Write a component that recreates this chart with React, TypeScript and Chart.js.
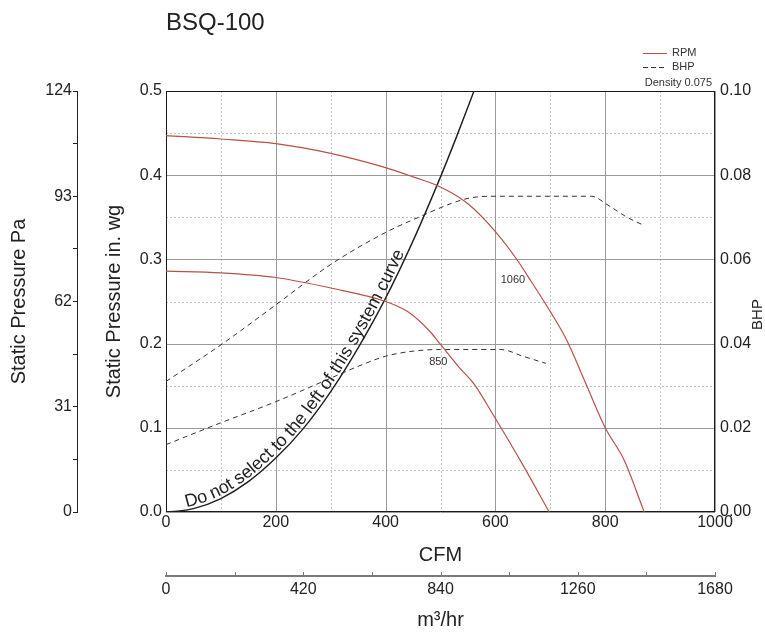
import React, { useEffect, useRef } from "react";
import Chart from "chart.js/auto";

const chartTitle = "BSQ-100";

// Fan curves: CFM vs static pressure (in. wg)
const cfm1060 = [0, 100, 200, 300, 400, 450, 500, 550, 600, 640, 665, 700, 730, 765, 800, 835, 871];
const sp1060 = [0.447, 0.443, 0.4375, 0.426, 0.409, 0.398, 0.386, 0.366, 0.333, 0.299, 0.274, 0.238, 0.204, 0.152, 0.1, 0.061, 0];
const cfm850 = [0, 100, 200, 300, 400, 440, 480, 500, 535, 560, 600, 650, 698];
const sp850 = [0.286, 0.284, 0.2785, 0.266, 0.25, 0.238, 0.215, 0.199, 0.171, 0.153, 0.111, 0.056, 0];

// Brake horsepower curves
const cfmBhp1060 = [0, 100, 200, 300, 400, 460, 520, 550, 590, 775, 805, 840, 872];
const bhp1060 = [0.031, 0.0397, 0.0492, 0.0588, 0.0664, 0.07, 0.0733, 0.0745, 0.075, 0.075, 0.0729, 0.07, 0.068];
const cfmBhp850 = [0, 100, 200, 300, 350, 400, 450, 500, 610, 650, 692];
const bhp850 = [0.016, 0.0212, 0.0262, 0.0318, 0.0346, 0.037, 0.0382, 0.0386, 0.0386, 0.037, 0.0353];

// System curve
const cfmSystem = [0, 20, 50, 100, 150, 200, 250, 300, 350, 400, 450, 500, 530, 561];
const spSystem = [0, 0.001, 0.004, 0.016, 0.036, 0.064, 0.099, 0.143, 0.195, 0.254, 0.322, 0.398, 0.447, 0.5];
const systemText = "Do not select to the left of this system curve";
const systemTextStartCfm = 38;

// Curve labels
const rpmLabels = ["1060", "850"];
const rpmLabelCfm = [632, 496];
const rpmLabelSp = [0.275, 0.178];

// Legend
const legendLabels = ["RPM", "BHP"];
const densityNote = "Density 0.075";

// Axis ticks
const cfmMajor = [0, 200, 400, 600, 800, 1000];
const cfmMinor = [100, 300, 500, 700, 900];
const m3hrMajor = [0, 420, 840, 1260, 1680];
const m3hrMinor = [210, 630, 1050, 1470];
const inwgMajor = [0, 0.1, 0.2, 0.3, 0.4, 0.5];
const inwgMinor = [0.05, 0.15, 0.25, 0.35, 0.45];
const paMajor = [0, 31, 62, 93, 124];
const paMinor = [15.5, 46.5, 77.5, 108.5];
const bhpMajor = [0, 0.02, 0.04, 0.06, 0.08, 0.1];

const FONT = '"Liberation Sans", Arial, Helvetica, sans-serif';
const TEXT = "#222222";
const RED = "#b8504c";

Chart.defaults.font.family = FONT;
Chart.defaults.color = TEXT;

const toPts = (xs: number[], ys: number[]) => xs.map((x, i) => ({ x, y: ys[i] }));
const near = (v: number, arr: number[]) => arr.some((a) => Math.abs(a - v) < 1e-7);
const setTicks = (major: number[], minor: number[]) => (scale: any) => {
  scale.ticks = [...major, ...minor].sort((a, b) => a - b).map((v) => ({ value: v }));
};
const crisp = (v: number) => Math.round(v) + 0.5;

function line(ctx: CanvasRenderingContext2D, x1: number, y1: number, x2: number, y2: number) {
  ctx.beginPath();
  ctx.moveTo(x1, y1);
  ctx.lineTo(x2, y2);
  ctx.stroke();
}

function drawTextAlongCurve(chart: any, datasetIndex: number) {
  const { ctx } = chart;
  const pts = chart.getDatasetMeta(datasetIndex).data as any[];
  if (!pts || pts.length < 2) return;
  const samples: { x: number; y: number }[] = [];
  for (let i = 0; i < pts.length - 1; i++) {
    const p0 = pts[i];
    const p1 = pts[i + 1];
    const c1x = p0.cp2x ?? p0.x, c1y = p0.cp2y ?? p0.y;
    const c2x = p1.cp1x ?? p1.x, c2y = p1.cp1y ?? p1.y;
    for (let k = 0; k < 24; k++) {
      const t = k / 24, u = 1 - t;
      samples.push({
        x: u * u * u * p0.x + 3 * u * u * t * c1x + 3 * u * t * t * c2x + t * t * t * p1.x,
        y: u * u * u * p0.y + 3 * u * u * t * c1y + 3 * u * t * t * c2y + t * t * t * p1.y,
      });
    }
  }
  samples.push({ x: pts[pts.length - 1].x, y: pts[pts.length - 1].y });
  const cum = [0];
  for (let i = 1; i < samples.length; i++) {
    cum.push(cum[i - 1] + Math.hypot(samples[i].x - samples[i - 1].x, samples[i].y - samples[i - 1].y));
  }
  const at = (s: number) => {
    let j = 0;
    while (j < cum.length - 2 && cum[j + 1] < s) j++;
    const a = samples[j], b = samples[j + 1];
    const len = cum[j + 1] - cum[j] || 1;
    const t = Math.max(0, Math.min(1, (s - cum[j]) / len));
    return { x: a.x + (b.x - a.x) * t, y: a.y + (b.y - a.y) * t, ang: Math.atan2(b.y - a.y, b.x - a.x) };
  };
  const startX = chart.scales.x.getPixelForValue(systemTextStartCfm);
  let idx = 0;
  while (idx < samples.length - 1 && samples[idx].x < startX) idx++;
  let s = cum[idx];
  ctx.save();
  ctx.font = `18px ${FONT}`;
  ctx.fillStyle = TEXT;
  ctx.textBaseline = "alphabetic";
  ctx.textAlign = "left";
  for (const ch of systemText) {
    const w = ctx.measureText(ch).width;
    const p = at(s + w / 2);
    ctx.save();
    ctx.translate(p.x, p.y);
    ctx.rotate(p.ang);
    ctx.fillText(ch, -w / 2, -3);
    ctx.restore();
    s += w;
  }
  ctx.restore();
}

const decorPlugin = {
  id: "decor",
  beforeDatasetsDraw(chart: any) {
    const { ctx, chartArea: a, scales } = chart;
    const xs = scales.x, ys = scales.y;
    ctx.save();
    ctx.lineWidth = 1;
    ctx.setLineDash([2, 2]);
    ctx.strokeStyle = "#c4c4c4";
    cfmMinor.forEach((v) => { const p = crisp(xs.getPixelForValue(v)); line(ctx, p, a.top, p, a.bottom); });
    inwgMinor.forEach((v) => { const p = crisp(ys.getPixelForValue(v)); line(ctx, a.left, p, a.right, p); });
    ctx.setLineDash([]);
    ctx.strokeStyle = "#9a9a9a";
    cfmMajor.forEach((v) => { const p = crisp(xs.getPixelForValue(v)); line(ctx, p, a.top, p, a.bottom); });
    inwgMajor.forEach((v) => { const p = crisp(ys.getPixelForValue(v)); line(ctx, a.left, p, a.right, p); });
    ctx.strokeStyle = "#1a1a1a";
    const l = crisp(a.left), t = crisp(a.top), r = crisp(a.right) - 1, b = crisp(a.bottom) - 1;
    ctx.strokeRect(l, t, r - l, b - t);
    ctx.restore();
  },
  afterDatasetsDraw(chart: any) {
    const { ctx, scales } = chart;
    ctx.save();
    ctx.font = `11px ${FONT}`;
    ctx.fillStyle = "#333333";
    ctx.textAlign = "center";
    ctx.textBaseline = "middle";
    rpmLabels.forEach((lab, i) => {
      ctx.fillText(lab, scales.x.getPixelForValue(rpmLabelCfm[i]), scales.y.getPixelForValue(rpmLabelSp[i]));
    });
    ctx.restore();
    drawTextAlongCurve(chart, 4);
  },
  afterDraw(chart: any) {
    const { ctx, chartArea: a, scales } = chart;
    ctx.save();
    // title
    ctx.font = `24px ${FONT}`;
    ctx.fillStyle = TEXT;
    ctx.textAlign = "left";
    ctx.textBaseline = "alphabetic";
    ctx.fillText(chartTitle, a.left, 30);
    // legend
    const lx1 = a.right - 72, lx2 = a.right - 48;
    ctx.font = `11px ${FONT}`;
    ctx.textBaseline = "middle";
    ctx.lineWidth = 1;
    ctx.strokeStyle = RED;
    line(ctx, lx1, a.top - 38 + 0.5, lx2, a.top - 38 + 0.5);
    ctx.fillStyle = "#333333";
    ctx.fillText(legendLabels[0], a.right - 43, a.top - 38);
    ctx.strokeStyle = "#333333";
    ctx.setLineDash([5, 3]);
    line(ctx, lx1, a.top - 24 + 0.5, lx2, a.top - 24 + 0.5);
    ctx.setLineDash([]);
    ctx.fillText(legendLabels[1], a.right - 43, a.top - 24);
    ctx.textAlign = "right";
    ctx.fillText(densityNote, a.right - 3, a.top - 8);
    // right axis title
    ctx.save();
    ctx.font = `15px ${FONT}`;
    ctx.fillStyle = TEXT;
    ctx.textAlign = "center";
    ctx.textBaseline = "middle";
    ctx.translate(758, (a.top + a.bottom) / 2 + 13);
    ctx.rotate(-Math.PI / 2);
    ctx.fillText("BHP", 0, 0);
    ctx.restore();
    // upward ticks on m3/hr axis
    const x2 = scales.x2;
    ctx.strokeStyle = "#777777";
    ctx.lineWidth = 1;
    [...m3hrMajor, ...m3hrMinor].forEach((v) => {
      const p = crisp(x2.getPixelForValue(v));
      line(ctx, p, x2.top - 4, p, x2.top);
    });
    ctx.restore();
  },
};

const rpmStyle = { borderColor: RED, borderWidth: 1.2, pointRadius: 0, cubicInterpolationMode: "monotone" as const, fill: false };
const bhpStyle = { borderColor: "#333333", borderWidth: 1, borderDash: [5, 4], pointRadius: 0, cubicInterpolationMode: "monotone" as const, fill: false };

export default function App() {
  const ref = useRef<HTMLCanvasElement>(null);
  useEffect(() => {
    const canvas = ref.current;
    if (!canvas) return;
    document.body.style.margin = "0";
    const chart = new Chart(canvas, {
      type: "line",
      data: {
        datasets: [
          { label: "RPM 1060", data: toPts(cfm1060, sp1060), xAxisID: "x", yAxisID: "y", ...rpmStyle },
          { label: "RPM 850", data: toPts(cfm850, sp850), xAxisID: "x", yAxisID: "y", ...rpmStyle },
          { label: "BHP 1060", data: toPts(cfmBhp1060, bhp1060), xAxisID: "x", yAxisID: "y2", ...bhpStyle },
          { label: "BHP 850", data: toPts(cfmBhp850, bhp850), xAxisID: "x", yAxisID: "y2", ...bhpStyle },
          { label: "System", data: toPts(cfmSystem, spSystem), xAxisID: "x", yAxisID: "y", borderColor: "#1e1e1e", borderWidth: 1.4, pointRadius: 0, cubicInterpolationMode: "monotone", fill: false },
        ],
      },
      options: {
        animation: false,
        responsive: false,
        layout: { padding: { top: 91, left: 0, right: 0, bottom: 0 } },
        plugins: { legend: { display: false }, tooltip: { enabled: false }, title: { display: false } },
        elements: { point: { radius: 0 } },
        scales: {
          x: {
            type: "linear", position: "bottom", min: 0, max: 1000, weight: 0,
            afterBuildTicks: setTicks(cfmMajor, cfmMinor),
            afterFit: (s: any) => { s.height = 64; },
            grid: { display: false, drawTicks: false },
            border: { display: false },
            ticks: { autoSkip: false, maxRotation: 0, padding: 1, font: { size: 16 }, color: TEXT,
              callback: (v: any) => (near(Number(v), cfmMajor) ? String(Math.round(Number(v))) : "") },
            title: { display: true, text: "CFM", font: { size: 20 }, color: TEXT, padding: { top: 0, bottom: 9 } },
          },
          x2: {
            type: "linear", position: "bottom", min: 0, max: 1680, weight: 1,
            afterBuildTicks: setTicks(m3hrMajor, m3hrMinor),
            afterFit: (s: any) => { s.height = 56; },
            grid: { display: false, drawTicks: false },
            border: { display: true, color: "#7a7a7a", width: 2 },
            ticks: { autoSkip: false, maxRotation: 0, padding: 4, font: { size: 16 }, color: TEXT,
              callback: (v: any) => (near(Number(v), m3hrMajor) ? String(Math.round(Number(v))) : "") },
            title: { display: true, text: "m³/hr", font: { size: 20 }, color: TEXT, padding: { top: 0, bottom: 0 } },
          },
          yPa: {
            type: "linear", position: "left", min: 0, max: 124, weight: 1,
            afterBuildTicks: setTicks(paMajor, paMinor),
            afterFit: (s: any) => { s.width = 77; },
            grid: { display: true, drawOnChartArea: false, drawTicks: true, tickLength: 4, tickColor: "#222", color: "#222" },
            border: { display: true, color: "#222", width: 1 },
            ticks: { autoSkip: false, padding: 1, font: { size: 16 }, color: TEXT,
              callback: (v: any) => (near(Number(v), paMajor) ? String(Math.round(Number(v))) : "") },
            title: { display: true, text: "Static Pressure Pa", font: { size: 20 }, color: TEXT, padding: { top: 7, bottom: 0 } },
          },
          y: {
            type: "linear", position: "left", min: 0, max: 0.5, weight: 0,
            afterBuildTicks: setTicks(inwgMajor, inwgMinor),
            afterFit: (s: any) => { s.width = 89; },
            grid: { display: false, drawTicks: false },
            border: { display: false },
            ticks: { autoSkip: false, padding: 4, font: { size: 16 }, color: TEXT,
              callback: (v: any) => (near(Number(v), inwgMajor) ? Number(v).toFixed(1) : "") },
            title: { display: true, text: "Static Pressure in. wg", font: { size: 20 }, color: TEXT, padding: { top: 25, bottom: 0 } },
          },
          y2: {
            type: "linear", position: "right", min: 0, max: 0.1,
            afterBuildTicks: setTicks(bhpMajor, []),
            afterFit: (s: any) => { s.width = 50; },
            grid: { display: false, drawTicks: false },
            border: { display: false },
            ticks: { autoSkip: false, padding: 5, font: { size: 16 }, color: TEXT,
              callback: (v: any) => Number(v).toFixed(2) },
            title: { display: false },
          },
        },
      } as any,
      plugins: [decorPlugin],
    });
    return () => chart.destroy();
  }, []);
  return (
    <div style={{ position: "absolute", left: 0, top: 0, width: 765, height: 632, background: "#ffffff" }}>
      <canvas ref={ref} width={765} height={632} style={{ display: "block", width: 765, height: 632 }} />
    </div>
  );
}
